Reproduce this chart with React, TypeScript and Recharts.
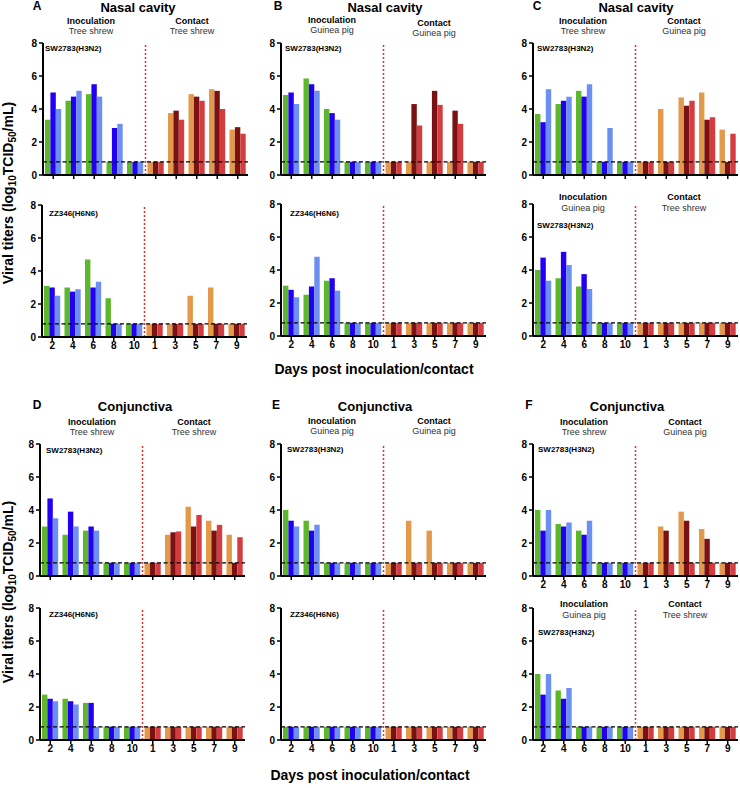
import React from 'react';
import { BarChart, Bar, XAxis, YAxis, ReferenceLine, Cell } from 'recharts';

const DAYS = ['2', '4', '6', '8', '10', '1', '3', '5', '7', '9'];
const Y_TICKS = [0, 2, 4, 6, 8];
const LOD = 0.8;

const INOC_COLORS = ['#5cb82a', '#2200f5', '#6d8ff2'];
const CONTACT_COLORS = ['#e3994a', '#7a1214', '#d43d40'];

// A - nasal cavity, tree shrew -> tree shrew
const aTop1 = [3.35, 4.5, 4.9, 0.8, 0.8, 0.8, 3.75, 4.9, 5.2, 2.75];
const aTop2 = [5.0, 4.75, 5.5, 2.85, 0.8, 0.8, 3.9, 4.75, 5.1, 2.9];
const aTop3 = [4.0, 5.1, 4.75, 3.1, 0.8, 0.8, 3.35, 4.5, 4.0, 2.5];
const aBot1 = [3.1, 3.0, 4.7, 2.35, 0.8, 0.8, 0.8, 2.5, 3.0, 0.8];
const aBot2 = [3.0, 2.75, 3.0, 0.8, 0.8, 0.8, 0.8, 0.8, 0.8, 0.8];
const aBot3 = [2.5, 2.9, 3.35, 0.8, 0.8, 0.8, 0.8, 0.8, 0.8, 0.8];

// B - nasal cavity, guinea pig -> guinea pig
const bTop1 = [4.85, 5.85, 4.0, 0.8, 0.8, 0.8, 0.8, 0.8, 0.8, 0.8];
const bTop2 = [5.0, 5.5, 3.75, 0.8, 0.8, 0.8, 4.3, 5.1, 3.9, 0.8];
const bTop3 = [4.3, 5.1, 3.35, 0.8, 0.8, 0.8, 3.0, 4.25, 3.1, 0.8];
const bBot1 = [3.05, 2.5, 3.35, 0.8, 0.8, 0.8, 0.8, 0.8, 0.8, 0.8];
const bBot2 = [2.8, 3.0, 3.5, 0.8, 0.8, 0.8, 0.8, 0.8, 0.8, 0.8];
const bBot3 = [2.35, 4.8, 2.75, 0.8, 0.8, 0.8, 0.8, 0.8, 0.8, 0.8];

// C - nasal cavity, cross species
const cTop1 = [3.7, 4.3, 5.1, 0.8, 0.8, 0.8, 4.0, 4.7, 5.0, 2.75];
const cTop2 = [3.2, 4.5, 4.75, 0.8, 0.8, 0.8, 0.8, 4.2, 3.35, 0.8];
const cTop3 = [5.2, 4.75, 5.5, 2.85, 0.8, 0.8, 0.8, 4.5, 3.5, 2.5];
const cBot1 = [4.0, 3.5, 3.0, 0.8, 0.8, 0.8, 0.8, 0.8, 0.8, 0.8];
const cBot2 = [4.75, 5.1, 3.75, 0.8, 0.8, 0.8, 0.8, 0.8, 0.8, 0.8];
const cBot3 = [3.35, 4.3, 2.85, 0.8, 0.8, 0.8, 0.8, 0.8, 0.8, 0.8];

// D - conjunctiva, tree shrew -> tree shrew
const dTop1 = [3.0, 2.5, 2.75, 0.8, 0.8, 0.8, 2.5, 4.2, 3.35, 2.5];
const dTop2 = [4.7, 3.9, 3.0, 0.8, 0.8, 0.8, 2.65, 3.0, 2.75, 0.8];
const dTop3 = [3.5, 3.0, 2.75, 0.8, 0.8, 0.8, 2.7, 3.7, 3.1, 2.35];
const dBot1 = [2.75, 2.5, 2.25, 0.8, 0.8, 0.8, 0.8, 0.8, 0.8, 0.8];
const dBot2 = [2.5, 2.35, 2.25, 0.8, 0.8, 0.8, 0.8, 0.8, 0.8, 0.8];
const dBot3 = [2.35, 2.15, 0.8, 0.8, 0.8, 0.8, 0.8, 0.8, 0.8, 0.8];

// E - conjunctiva, guinea pig -> guinea pig
const eTop1 = [4.0, 3.35, 0.8, 0.8, 0.8, 0.8, 3.35, 2.75, 0.8, 0.8];
const eTop2 = [3.35, 2.75, 0.8, 0.8, 0.8, 0.8, 0.8, 0.8, 0.8, 0.8];
const eTop3 = [3.0, 3.1, 0.8, 0.8, 0.8, 0.8, 0.8, 0.8, 0.8, 0.8];
const eBot1 = [0.8, 0.8, 0.8, 0.8, 0.8, 0.8, 0.8, 0.8, 0.8, 0.8];
const eBot2 = [0.8, 0.8, 0.8, 0.8, 0.8, 0.8, 0.8, 0.8, 0.8, 0.8];
const eBot3 = [0.8, 0.8, 0.8, 0.8, 0.8, 0.8, 0.8, 0.8, 0.8, 0.8];

// F - conjunctiva, cross species
const fTop1 = [4.0, 3.15, 2.75, 0.8, 0.8, 0.8, 3.0, 3.9, 2.85, 0.8];
const fTop2 = [2.75, 3.0, 2.5, 0.8, 0.8, 0.8, 2.75, 3.35, 2.25, 0.8];
const fTop3 = [4.0, 3.25, 3.35, 0.8, 0.8, 0.8, 0.8, 0.8, 0.8, 0.8];
const fBot1 = [4.0, 3.0, 0.8, 0.8, 0.8, 0.8, 0.8, 0.8, 0.8, 0.8];
const fBot2 = [2.75, 2.5, 0.8, 0.8, 0.8, 0.8, 0.8, 0.8, 0.8, 0.8];
const fBot3 = [4.0, 3.15, 0.8, 0.8, 0.8, 0.8, 0.8, 0.8, 0.8, 0.8];

const FONT = '"Liberation Sans", Arial, sans-serif';
const YW = 30;
const MT = 6;
const PLOT_W = 205;
const PLOT_H = 132;

const HiddenTick = () => <g />;

interface SubProps {
  x: number;
  y: number;
  s1: number[];
  s2: number[];
  s3: number[];
  showTicks: boolean;
}

const Sub: React.FC<SubProps> = ({ x, y, s1, s2, s3, showTicks }) => {
  const data = DAYS.map((d, i) => ({ day: d, s1: s1[i], s2: s2[i], s3: s3[i] }));
  const series = [
    { key: 's1', idx: 0 },
    { key: 's2', idx: 1 },
    { key: 's3', idx: 2 },
  ];
  return (
    <div style={{ position: 'absolute', left: x - YW, top: y - MT }}>
      <BarChart
        width={YW + PLOT_W + 4}
        height={MT + PLOT_H + 24}
        data={data}
        margin={{ top: MT, right: 4, left: 0, bottom: 0 }}
        barGap={0}
        barSize={5.4}
      >
        <XAxis
          dataKey="day"
          height={24}
          interval={0}
          tick={showTicks ? { fontSize: 10, fontWeight: 'bold', fill: '#000', fontFamily: FONT } : HiddenTick}
          tickSize={4}
          tickMargin={1}
          tickLine={{ stroke: '#000', strokeWidth: 1.5 }}
          axisLine={{ stroke: '#000', strokeWidth: 2 }}
        />
        <YAxis
          type="number"
          domain={[0, 8]}
          ticks={Y_TICKS}
          interval={0}
          width={YW}
          tick={{ fontSize: 10, fontWeight: 'bold', fill: '#000', fontFamily: FONT }}
          tickSize={4}
          tickMargin={2}
          tickLine={{ stroke: '#000', strokeWidth: 1.5 }}
          axisLine={{ stroke: '#000', strokeWidth: 2 }}
        />
        {series.map((s) => (
          <Bar key={s.key} dataKey={s.key} isAnimationActive={false}>
            {data.map((entry, i) => (
              <Cell
                key={`${s.key}-${entry.day}`}
                fill={i < 5 ? INOC_COLORS[s.idx] : CONTACT_COLORS[s.idx]}
              />
            ))}
          </Bar>
        ))}
        <ReferenceLine y={LOD} stroke="#000" strokeDasharray="4 2.5" strokeWidth={1.2} />
        <ReferenceLine x="1" position="start" stroke="#e3302c" strokeDasharray="2 2" strokeWidth={1.5} />
      </BarChart>
    </div>
  );
};

const SUBPLOTS = [
  { id: 'aTop', x: 43, y: 43, s: [aTop1, aTop2, aTop3], ticks: false },
  { id: 'aBot', x: 42, y: 205, s: [aBot1, aBot2, aBot3], ticks: true },
  { id: 'bTop', x: 281, y: 43, s: [bTop1, bTop2, bTop3], ticks: false },
  { id: 'bBot', x: 281, y: 204, s: [bBot1, bBot2, bBot3], ticks: true },
  { id: 'cTop', x: 533, y: 43, s: [cTop1, cTop2, cTop3], ticks: false },
  { id: 'cBot', x: 533, y: 204, s: [cBot1, cBot2, cBot3], ticks: true },
  { id: 'dTop', x: 40, y: 444, s: [dTop1, dTop2, dTop3], ticks: false },
  { id: 'dBot', x: 40, y: 608, s: [dBot1, dBot2, dBot3], ticks: true },
  { id: 'eTop', x: 281, y: 444, s: [eTop1, eTop2, eTop3], ticks: false },
  { id: 'eBot', x: 281, y: 608, s: [eBot1, eBot2, eBot3], ticks: true },
  { id: 'fTop', x: 533, y: 444, s: [fTop1, fTop2, fTop3], ticks: true },
  { id: 'fBot', x: 533, y: 608, s: [fBot1, fBot2, fBot3], ticks: true },
];

// panel headers: letter, title, inoculation host, contact host
const HEADERS = [
  { letter: 'A', lx: 37, title: 'Nasal cavity', tx: 138, ty: 7, ix: 91, cx: 192, iy: 21, cy: 21, inoc: 'Tree shrew', cont: 'Tree shrew' },
  { letter: 'B', lx: 278, title: 'Nasal cavity', tx: 385, ty: 7, ix: 332, cx: 434, iy: 20, cy: 23, inoc: 'Guinea pig', cont: 'Guinea pig' },
  { letter: 'C', lx: 537, title: 'Nasal cavity', tx: 636, ty: 7, ix: 583, cx: 684, iy: 21, cy: 21, inoc: 'Tree shrew', cont: 'Guinea pig' },
  { letter: 'D', lx: 37, title: 'Conjunctiva', tx: 135, ty: 406, ix: 92, cx: 194, iy: 422, cy: 422, inoc: 'Tree shrew', cont: 'Tree shrew' },
  { letter: 'E', lx: 276, title: 'Conjunctiva', tx: 375, ty: 406, ix: 332, cx: 434, iy: 421, cy: 421, inoc: 'Guinea pig', cont: 'Guinea pig' },
  { letter: 'F', lx: 529, title: 'Conjunctiva', tx: 627, ty: 406, ix: 584, cx: 685, iy: 422, cy: 422, inoc: 'Tree shrew', cont: 'Guinea pig' },
];

// inner headers for the reversed cross-species subplots
const INNER = [
  { ix: 583, cx: 684, y: 197, inoc: 'Guinea pig', cont: 'Tree shrew' },
  { ix: 584, cx: 685, y: 604, inoc: 'Guinea pig', cont: 'Tree shrew' },
];

const STRAINS = [
  { x: 45, y: 48, t: 'SW2783(H3N2)' },
  { x: 49, y: 213, t: 'ZZ346(H6N6)' },
  { x: 285, y: 48, t: 'SW2783(H3N2)' },
  { x: 290, y: 213, t: 'ZZ346(H6N6)' },
  { x: 537, y: 48, t: 'SW2783(H3N2)' },
  { x: 537, y: 225, t: 'SW2783(H3N2)' },
  { x: 46, y: 450, t: 'SW2783(H3N2)' },
  { x: 49, y: 614, t: 'ZZ346(H6N6)' },
  { x: 287, y: 449, t: 'SW2783(H3N2)' },
  { x: 290, y: 614, t: 'ZZ346(H6N6)' },
  { x: 538, y: 449, t: 'SW2783(H3N2)' },
  { x: 538, y: 632, t: 'SW2783(H3N2)' },
];

const YLabel: React.FC<{ cx: number; cy: number }> = ({ cx, cy }) => (
  <text
    transform={`translate(${cx},${cy}) rotate(-90)`}
    textAnchor="middle"
    dominantBaseline="central"
    fontSize={14}
    fontWeight="bold"
  >
    Viral titers (log
    <tspan fontSize={10} dy={4}>10</tspan>
    <tspan dy={-4}>TCID</tspan>
    <tspan fontSize={10} dy={4}>50</tspan>
    <tspan dy={-4}>/mL)</tspan>
  </text>
);

export default function App() {
  return (
    <div style={{ position: 'absolute', left: 0, top: 0, width: 740, height: 788, background: '#fff', fontFamily: FONT }}>
      {SUBPLOTS.map((p) => (
        <Sub key={p.id} x={p.x} y={p.y} s1={p.s[0]} s2={p.s[1]} s3={p.s[2]} showTicks={p.ticks} />
      ))}
      <svg
        width={740}
        height={788}
        style={{ position: 'absolute', left: 0, top: 0, pointerEvents: 'none' }}
        fontFamily={FONT}
      >
        {HEADERS.map((h) => (
          <g key={h.letter}>
            <text x={h.lx} y={h.ty - 1} textAnchor="middle" dominantBaseline="central" fontSize={12} fontWeight="bold">{h.letter}</text>
            <text x={h.tx} y={h.ty} textAnchor="middle" dominantBaseline="central" fontSize={13} fontWeight="bold">{h.title}</text>
            <text x={h.ix} y={h.iy} textAnchor="middle" dominantBaseline="central" fontSize={9} fontWeight="bold">Inoculation</text>
            <text x={h.ix} y={h.iy + 10} textAnchor="middle" dominantBaseline="central" fontSize={9} fill="#333">{h.inoc}</text>
            <text x={h.cx} y={h.cy} textAnchor="middle" dominantBaseline="central" fontSize={9} fontWeight="bold">Contact</text>
            <text x={h.cx} y={h.cy + 10} textAnchor="middle" dominantBaseline="central" fontSize={9} fill="#333">{h.cont}</text>
          </g>
        ))}
        {INNER.map((h) => (
          <g key={`inner-${h.y}`}>
            <text x={h.ix} y={h.y} textAnchor="middle" dominantBaseline="central" fontSize={9} fontWeight="bold">Inoculation</text>
            <text x={h.ix} y={h.y + 11} textAnchor="middle" dominantBaseline="central" fontSize={9} fill="#333">{h.inoc}</text>
            <text x={h.cx} y={h.y} textAnchor="middle" dominantBaseline="central" fontSize={9} fontWeight="bold">Contact</text>
            <text x={h.cx} y={h.y + 11} textAnchor="middle" dominantBaseline="central" fontSize={9} fill="#333">{h.cont}</text>
          </g>
        ))}
        {STRAINS.map((s) => (
          <text key={`${s.x}-${s.y}`} x={s.x} y={s.y} dominantBaseline="central" fontSize={8} fontWeight="bold">{s.t}</text>
        ))}
        <YLabel cx={8} cy={193} />
        <YLabel cx={8} cy={592} />
        <text x={374} y={369} textAnchor="middle" dominantBaseline="central" fontSize={14} fontWeight="bold">Days post inoculation/contact</text>
        <text x={370} y={775} textAnchor="middle" dominantBaseline="central" fontSize={14} fontWeight="bold">Days post inoculation/contact</text>
      </svg>
    </div>
  );
}
